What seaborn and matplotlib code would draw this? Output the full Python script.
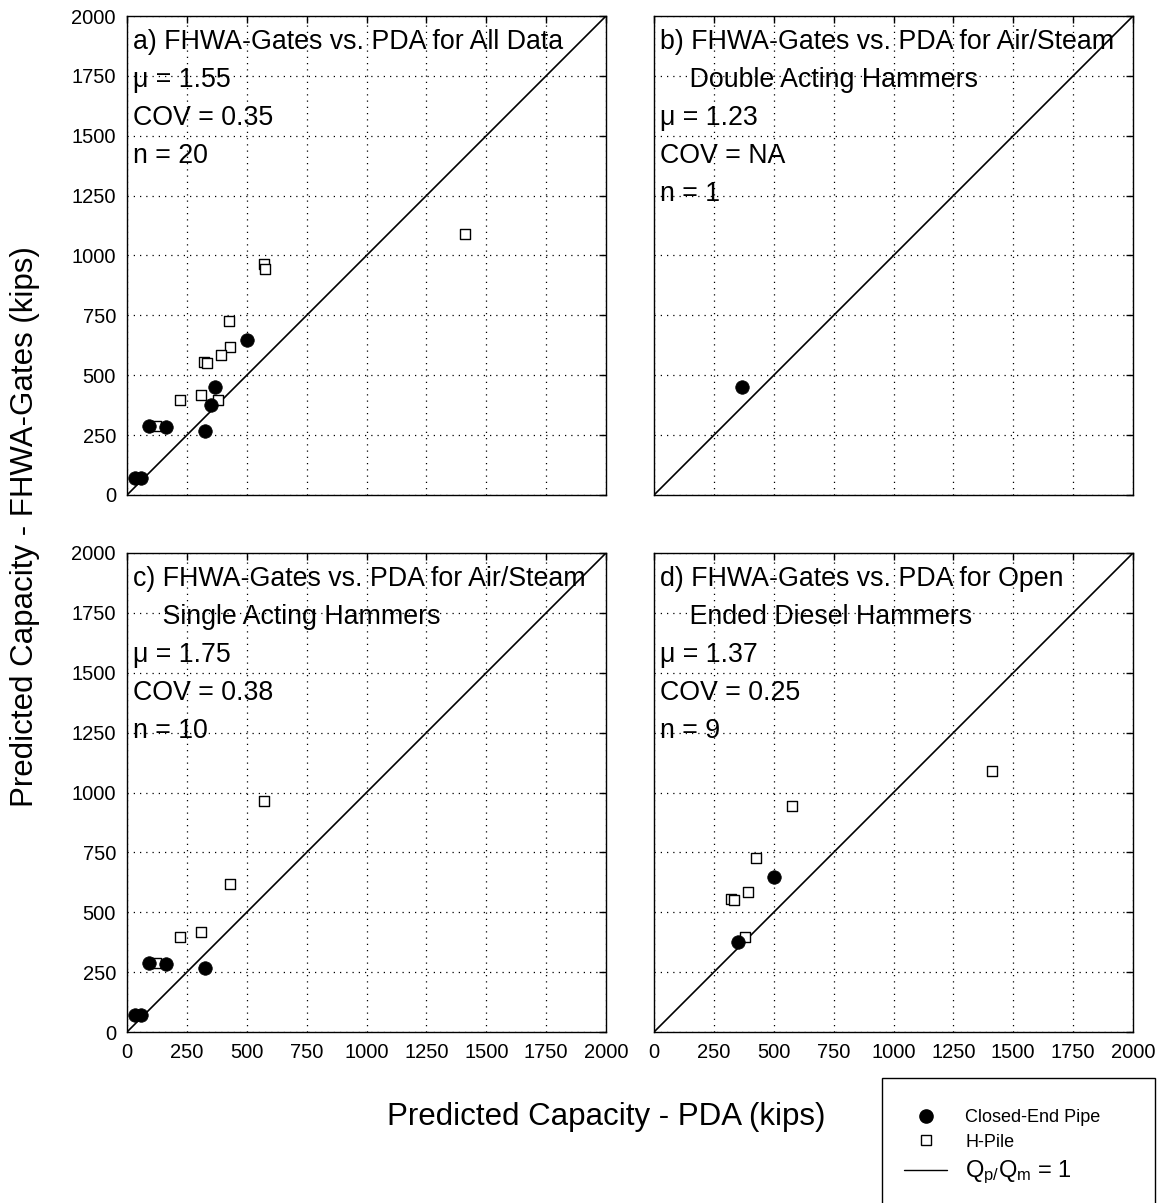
import matplotlib
matplotlib.use("Agg")
import matplotlib.pyplot as plt
import seaborn as sns
import numpy as np
import pandas as pd
from matplotlib.patches import Rectangle
from matplotlib.lines import Line2D

# ---- data (kips) ----
# Air/Steam double acting
dbl_pipe_x = [366]
dbl_pipe_y = [449]
dbl_h_x = []
dbl_h_y = []
# Air/Steam single acting
sgl_pipe_x = [35, 59, 91, 163, 325]
sgl_pipe_y = [70, 70, 290, 282, 269]
sgl_h_x = [119, 221, 311, 430, 571]
sgl_h_y = [287, 395, 418, 617, 965]
# Open ended diesel
ode_pipe_x = [349, 501]
ode_pipe_y = [376, 649]
ode_h_x = [378, 320, 336, 393, 425, 577, 1410]
ode_h_y = [398, 555, 551, 584, 725, 942, 1091]

all_pipe_x = dbl_pipe_x + sgl_pipe_x + ode_pipe_x
all_pipe_y = dbl_pipe_y + sgl_pipe_y + ode_pipe_y
all_h_x = dbl_h_x + sgl_h_x + ode_h_x
all_h_y = dbl_h_y + sgl_h_y + ode_h_y

line_x = [0, 2000]
line_y = [0, 2000]
ticks = [0, 250, 500, 750, 1000, 1250, 1500, 1750, 2000]

panel_titles = [
    ["a) FHWA-Gates vs. PDA for All Data"],
    ["b) FHWA-Gates vs. PDA for Air/Steam", "    Double Acting Hammers"],
    ["c) FHWA-Gates vs. PDA for Air/Steam", "    Single Acting Hammers"],
    ["d) FHWA-Gates vs. PDA for Open", "    Ended Diesel Hammers"],
]
panel_mu = ["1.55", "1.23", "1.75", "1.37"]
panel_cov = ["0.35", "NA", "0.38", "0.25"]
panel_n = ["20", "1", "10", "9"]

panel_data = [
    (all_pipe_x, all_pipe_y, all_h_x, all_h_y),
    (dbl_pipe_x, dbl_pipe_y, dbl_h_x, dbl_h_y),
    (sgl_pipe_x, sgl_pipe_y, sgl_h_x, sgl_h_y),
    (ode_pipe_x, ode_pipe_y, ode_h_x, ode_h_y),
]

sns.set_theme(style="white")
plt.rcParams['font.family'] = ['Liberation Sans', 'DejaVu Sans']
plt.rcParams['mathtext.fontset'] = 'custom'
plt.rcParams['mathtext.rm'] = 'Liberation Sans'
plt.rcParams['mathtext.it'] = 'Liberation Sans'

W, H = 1169, 1203
fig = plt.figure(figsize=(W / 100, H / 100), dpi=100)
fig.patch.set_facecolor('white')

lefts = [127, 654, 127, 654]
tops = [16, 16, 553, 553]
size = 479

for i in range(4):
    ax = fig.add_axes([lefts[i] / W, 1 - (tops[i] + size) / H, size / W, size / H])
    ax.set_facecolor('white')
    px, py, hx, hy = panel_data[i]
    sns.lineplot(x=line_x, y=line_y, ax=ax, color='black', linewidth=1.2, zorder=2)
    if len(hx):
        sns.scatterplot(x=hx, y=hy, ax=ax, marker='s', s=60, color='white',
                        edgecolor='black', linewidth=1.0, zorder=3, legend=False)
    if len(px):
        sns.scatterplot(x=px, y=py, ax=ax, marker='o', s=95, color='black',
                        edgecolor='black', linewidth=0.5, zorder=4, legend=False)
    ax.set_xlim(0, 2000)
    ax.set_ylim(0, 2000)
    ax.set_xticks(ticks)
    ax.set_yticks(ticks)
    ax.grid(True, color='black', linestyle=(0, (1, 4)), linewidth=0.9)
    ax.tick_params(direction='in', length=5, width=1, top=True, right=True,
                   labelsize=14.5, colors='black', pad=8)
    if i in (1, 3):
        ax.tick_params(labelleft=False)
    if i in (0, 1):
        ax.tick_params(labelbottom=False)
    for sp in ax.spines.values():
        sp.set_color('black')
        sp.set_linewidth(1.0)
    ax.set_xlabel('')
    ax.set_ylabel('')

    lines = panel_titles[i] + ["\u03bc = " + panel_mu[i], "COV = " + panel_cov[i],
                               "n = " + panel_n[i]]
    y0 = 1 - 26 / size
    step = 38 / size
    for k, t in enumerate(lines):
        ax.text(6 / size, y0 - k * step, t, transform=ax.transAxes, fontsize=19.3,
                va='center', ha='left', color='black', zorder=5)

fig.text(606 / W, 1 - 1117 / H, "Predicted Capacity - PDA (kips)", fontsize=22.5,
         ha='center', va='center', color='black')
fig.text(25 / W, 1 - 527 / H, "Predicted Capacity - FHWA-Gates (kips)", fontsize=22.5,
         ha='center', va='center', rotation=90, color='black')

# legend box
fig.patches.append(Rectangle((882 / W, -0.01), 273 / W, (1203 - 1078) / H + 0.01,
                             transform=fig.transFigure, facecolor='white',
                             edgecolor='black', linewidth=1.0))
handles = [
    Line2D([], [], marker='o', linestyle='none', color='black', markersize=9.5),
    Line2D([], [], marker='s', linestyle='none', markerfacecolor='white',
           markeredgecolor='black', markersize=7.5, markeredgewidth=1.0),
    Line2D([], [], color='black', linewidth=1.0),
]
labels = ["Closed-End Pipe", "H-Pile", r"Q$_{\mathregular{p/}}$Q$_{\mathregular{m}}$ = 1"]
leg = fig.legend(handles, labels, loc='upper left', bbox_to_anchor=(895 / W, 1 - 1100 / H),
                 frameon=False, fontsize=13, handlelength=2.4, handletextpad=1.0,
                 labelspacing=0.42, borderpad=0)
for t in leg.get_texts():
    t.set_color('black')
leg.get_texts()[2].set_fontsize(17)

fig.savefig("out.png", dpi=100, facecolor='white')
